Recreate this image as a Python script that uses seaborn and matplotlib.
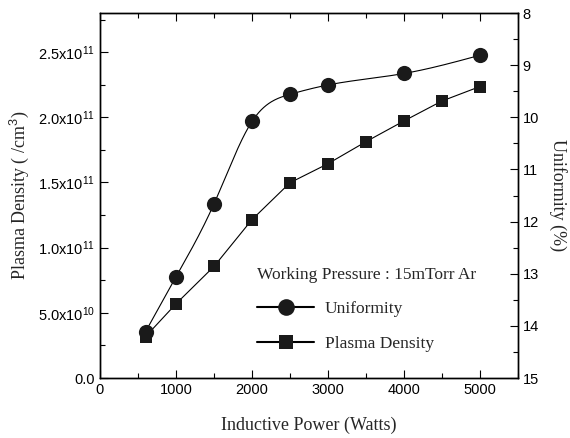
import numpy as np
import pandas as pd
import matplotlib
matplotlib.use("Agg")
import matplotlib.pyplot as plt
from matplotlib.ticker import FuncFormatter, MultipleLocator
from matplotlib.lines import Line2D
import seaborn as sns

# ---- data ----
unif_power = [600, 1000, 1500, 2000, 2500, 3000, 4000, 5000]
uniformity = [14.11, 13.06, 11.66, 10.08, 9.56, 9.38, 9.16, 8.81]
dens_power = [600, 1000, 1500, 2000, 2500, 3000, 3500, 4000, 4500, 5000]
density = [3.18e10, 5.69e10, 8.56e10, 12.15e10, 14.98e10, 16.44e10,
           18.13e10, 19.72e10, 21.25e10, 22.36e10]
x_ticks = [0, 1000, 2000, 3000, 4000, 5000]
left_ticks = [0, 5e10, 1e11, 1.5e11, 2e11, 2.5e11]
right_ticks = [8, 9, 10, 11, 12, 13, 14, 15]

sns.set_style("ticks")
plt.rcParams['font.family'] = ['Liberation Sans', 'DejaVu Sans']
plt.rcParams['mathtext.fontset'] = 'custom'
plt.rcParams['mathtext.rm'] = 'Liberation Sans'
plt.rcParams['mathtext.it'] = 'Liberation Sans:italic'
serif = ['Liberation Serif', 'DejaVu Serif']


def natural_spline(x, y, xs):
    x = np.asarray(x, float); y = np.asarray(y, float)
    n = len(x)
    h = np.diff(x)
    A = np.zeros((n, n)); b = np.zeros(n)
    A[0, 0] = 1; A[-1, -1] = 1
    for i in range(1, n - 1):
        A[i, i - 1] = h[i - 1]
        A[i, i] = 2 * (h[i - 1] + h[i])
        A[i, i + 1] = h[i]
        b[i] = 3 * ((y[i + 1] - y[i]) / h[i] - (y[i] - y[i - 1]) / h[i - 1])
    c = np.linalg.solve(A, b)
    out = np.empty_like(xs, dtype=float)
    for k, xv in enumerate(xs):
        i = min(max(np.searchsorted(x, xv) - 1, 0), n - 2)
        dx = xv - x[i]
        bi = (y[i + 1] - y[i]) / h[i] - h[i] * (2 * c[i] + c[i + 1]) / 3
        di = (c[i + 1] - c[i]) / (3 * h[i])
        out[k] = y[i] + bi * dx + c[i] * dx ** 2 + di * dx ** 3
    return out


fig = plt.figure(figsize=(5.7, 4.38), dpi=100)
ax = fig.add_axes([100 / 570, 1 - 378 / 438, 418 / 570, 365 / 438])
ax2 = ax.twinx()

df_d = pd.DataFrame({"power": dens_power, "density": density})
sns.lineplot(data=df_d, x="power", y="density", ax=ax, color="black",
             linewidth=0.8, marker="s", markersize=9, markeredgewidth=0,
             markerfacecolor="#1a1a1a", legend=False)

xs = np.linspace(unif_power[0], unif_power[-1], 400)
ax2.plot(xs, natural_spline(unif_power, uniformity, xs), color="black", lw=0.8)
df_u = pd.DataFrame({"power": unif_power, "uniformity": uniformity})
sns.scatterplot(data=df_u, x="power", y="uniformity", ax=ax2, color="#1a1a1a",
                s=120, marker="o", linewidth=0, legend=False, zorder=3)

ax.set_xlim(0, 5500)
ax.set_ylim(0, 2.8e11)
ax2.set_ylim(15, 8)
ax.set_xticks(x_ticks)
ax.xaxis.set_minor_locator(MultipleLocator(500))
ax.set_yticks(left_ticks)
ax.yaxis.set_minor_locator(MultipleLocator(2.5e10))
ax2.set_yticks(right_ticks)
ax2.yaxis.set_minor_locator(MultipleLocator(0.5))


def fmt(v, pos):
    if v == 0:
        return "0.0"
    e = int(np.floor(np.log10(v)))
    return "%.1fx10$^{%d}$" % (v / 10 ** e, e)


ax.yaxis.set_major_formatter(FuncFormatter(fmt))

for a in (ax, ax2):
    a.tick_params(which="both", direction="in", labelsize=10.5, width=0.8,
                  colors="black", top=True)
    a.tick_params(which="major", length=6)
    a.tick_params(which="minor", length=3.5)
    for s in a.spines.values():
        s.set_visible(True)
        s.set_linewidth(1.0)
        s.set_color("black")
ax.tick_params(right=False, which="both")
ax2.tick_params(left=False, labelleft=False, which="both")

ax.set_xlabel("Inductive Power (Watts)", family=serif, fontsize=13, labelpad=14)
ax.set_ylabel("Plasma Density ( /cm$^3$)", family=serif, fontsize=13, labelpad=5)
ax2.set_ylabel("Uniformity (%)", family=serif, fontsize=13, rotation=270,
               labelpad=20)

handles = [Line2D([], [], color="black", lw=1.5, marker="o", markersize=12,
                  markerfacecolor="#1a1a1a", markeredgewidth=0),
           Line2D([], [], color="black", lw=1.5, marker="s", markersize=10,
                  markerfacecolor="#1a1a1a", markeredgewidth=0)]
leg = ax2.legend(handles, ["Uniformity", "Plasma Density"],
                 title="Working Pressure : 15mTorr Ar", frameon=False,
                 loc="upper left", bbox_to_anchor=(250 / 570, 1 - 260 / 438),
                 bbox_transform=fig.transFigure, alignment="left",
                 prop={"family": serif, "size": 12.5}, handlelength=3.3,
                 handletextpad=0.6, labelspacing=1.05, borderaxespad=0)
leg.get_title().set_fontfamily(serif)
leg.get_title().set_fontsize(12.5)

fig.savefig("out.png", dpi=100)
